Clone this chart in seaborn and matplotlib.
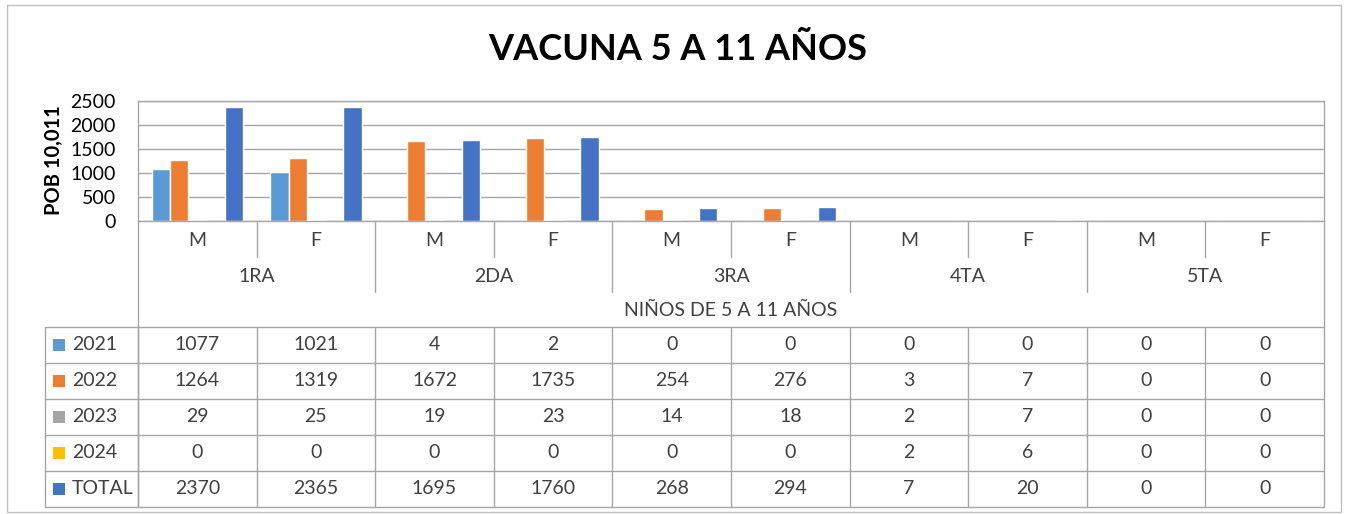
import matplotlib
matplotlib.use("Agg")
import matplotlib.pyplot as plt
import matplotlib.transforms as mtransforms
from matplotlib.lines import Line2D
from matplotlib.patches import Rectangle
import pandas as pd
import seaborn as sns

grades = ["1RA", "2DA", "3RA", "4TA", "5TA"]
sexes = ["M", "F"]
series = ["2021", "2022", "2023", "2024", "TOTAL"]
colors = ["#5B9BD5", "#ED7D31", "#A5A5A5", "#FFC000", "#4472C4"]

v2021 = [1077, 1021, 4, 2, 0, 0, 0, 0, 0, 0]
v2022 = [1264, 1319, 1672, 1735, 254, 276, 3, 7, 0, 0]
v2023 = [29, 25, 19, 23, 14, 18, 2, 7, 0, 0]
v2024 = [0, 0, 0, 0, 0, 0, 2, 6, 0, 0]
vtotal = [2370, 2365, 1695, 1760, 268, 294, 7, 20, 0, 0]

title = "VACUNA 5 A 11 AÑOS"
ylabel = "POB 10,011"
xlabel = "NIÑOS DE 5 A 11 AÑOS"

sns.set_theme(style="white")
plt.rcParams["font.family"] = ["Lato", "DejaVu Sans"]

W, H = 1349, 514
GRID = "#A6A6A6"
TXT = "#404040"
FS = 14


def px(x):
    return x / W


def py(y):
    return 1 - y / H


cats = [f"{g} {s}" for g in grades for s in sexes]
values = [v2021, v2022, v2023, v2024, vtotal]
df = pd.DataFrame(
    [(c, s, v) for s, vals in zip(series, values) for c, v in zip(cats, vals)],
    columns=["cat", "serie", "value"],
)

fig = plt.figure(figsize=(W / 100, H / 100), dpi=100)
left, right, top, bottom = 138, 1324, 101, 221
ax = fig.add_axes([px(left), py(bottom), px(right - left), (bottom - top) / H])

sns.barplot(
    data=df, x="cat", y="value", hue="serie", order=cats, hue_order=series,
    palette=colors, saturation=1, width=0.77, gap=0, legend=False, ax=ax,
)
ax.set_xlim(-0.5, len(cats) - 0.5)
ax.set_ylim(0, 2500)
ax.set_yticks(range(0, 2501, 500))
ax.set_xticks([])
ax.set_xlabel("")
ax.set_ylabel("")
ax.grid(axis="y", color=GRID, linewidth=1)
ax.set_axisbelow(True)
for sp in ax.spines.values():
    sp.set_color(GRID)
    sp.set_linewidth(1)
# tick labels sit about 22 px left of the plot area, as in Excel
ax.tick_params(axis="y", labelsize=FS, labelcolor="black", length=0, pad=0)
shift = mtransforms.ScaledTranslation(-22 / 100, 0, fig.dpi_scale_trans)
for lab in ax.get_yticklabels():
    lab.set_transform(lab.get_transform() + shift)

fig.text(px(54), py(160), ylabel, rotation=90, ha="center", va="center",
         fontsize=14.5, fontweight="bold", color="black")
fig.text(px(678), py(49), title, ha="center", va="center",
         fontsize=26, fontweight="bold", color="black")

trans = mtransforms.blended_transform_factory(ax.transData, fig.transFigure)


def vline(x, y0, y1, tr=trans):
    fig.add_artist(Line2D([x, x], [py(y0), py(y1)], transform=tr,
                          color=GRID, linewidth=1))


def hline(x0, x1, y):
    fig.add_artist(Line2D([px(x0), px(x1)], [py(y), py(y)],
                          transform=fig.transFigure, color=GRID, linewidth=1))


# category axis: M/F row and grade row
for i, c in enumerate(cats):
    fig.text(i, py(240), c.split()[1], transform=trans, ha="center",
             va="center", fontsize=FS, color=TXT)
for j, g in enumerate(grades):
    fig.text(2 * j + 0.5, py(277), g, transform=trans, ha="center",
             va="center", fontsize=FS, color=TXT)
    if j > 0:
        vline(2 * j - 0.5, bottom, 292)
    vline(2 * j + 0.5, bottom, 257)
fig.text(px((left + right) / 2), py(310), xlabel, ha="center", va="center",
         fontsize=FS, color=TXT)
vline(-0.5, bottom, 507)
vline(len(cats) - 0.5, bottom, 327)

# data table
row_y = [327, 363, 399, 435, 471, 507]
tleft = 45
for y in row_y:
    hline(tleft, right, y)
vline(px(tleft), 327, 507, tr=fig.transFigure)
for i in range(len(cats) + 1):
    vline(i - 0.5, 327, 507)
for r, (s, col, vals) in enumerate(zip(series, colors, values)):
    yc = (row_y[r] + row_y[r + 1]) / 2
    fig.add_artist(Rectangle((px(53), py(yc + 6)), px(12), 12 / H,
                             transform=fig.transFigure, color=col, lw=0))
    fig.text(px(72), py(yc), s, ha="left", va="center", fontsize=FS, color=TXT)
    for i, v in enumerate(vals):
        fig.text(i, py(yc), str(v), transform=trans, ha="center",
                 va="center", fontsize=FS, color=TXT)

# chart border
fig.add_artist(Rectangle((px(7), py(512)), px(1341 - 7), (512 - 5) / H,
                         transform=fig.transFigure, fill=False,
                         edgecolor="#BFBFBF", lw=1))

fig.savefig("out.png", dpi=100)
